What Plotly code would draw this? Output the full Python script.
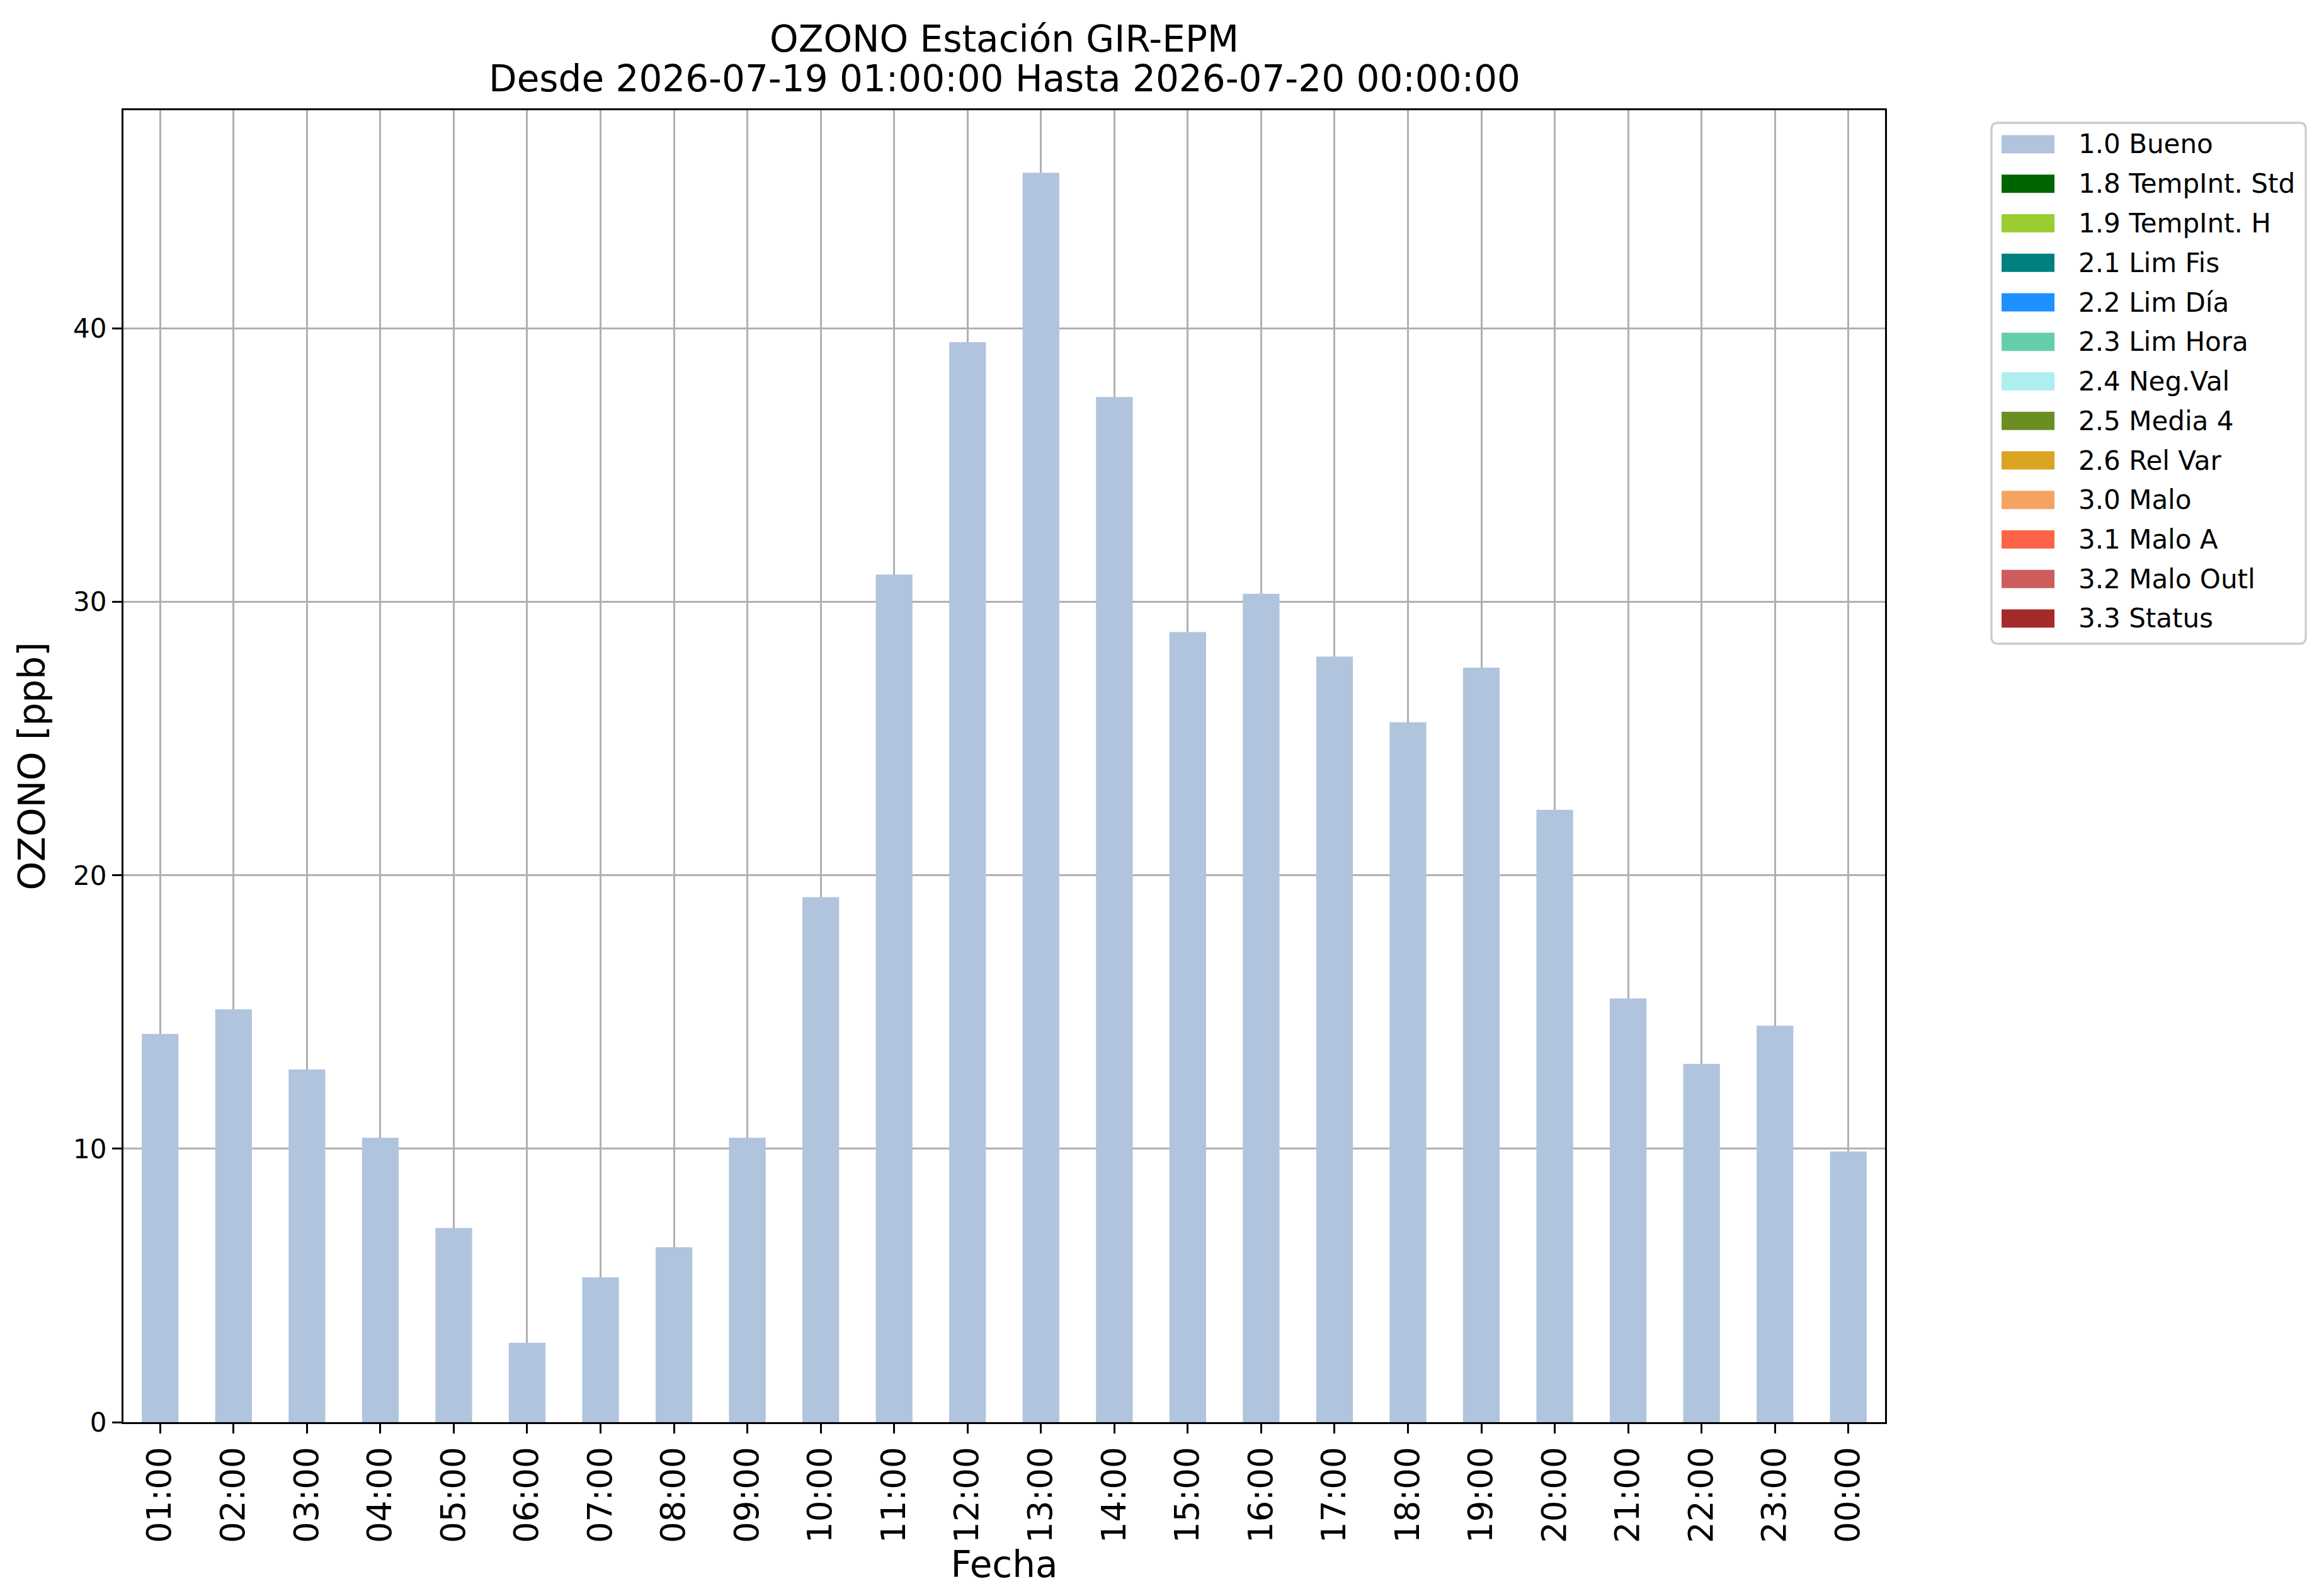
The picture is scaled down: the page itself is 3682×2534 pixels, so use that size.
import plotly.graph_objects as go

# ---------------- data ----------------
horas = ["01:00", "02:00", "03:00", "04:00", "05:00", "06:00", "07:00", "08:00",
         "09:00", "10:00", "11:00", "12:00", "13:00", "14:00", "15:00", "16:00",
         "17:00", "18:00", "19:00", "20:00", "21:00", "22:00", "23:00", "00:00"]
ozono_bueno = [14.2, 15.1, 12.9, 10.4, 7.1, 2.9, 5.3, 6.4, 10.4, 19.2, 31.0, 39.5,
               45.7, 37.5, 28.9, 30.3, 28.0, 25.6, 27.6, 22.4, 15.5, 13.1, 14.5, 9.9]
y_ticks = [0, 10, 20, 30, 40]

leyenda_etiquetas = ["1.0 Bueno", "1.8 TempInt. Std", "1.9 TempInt. H", "2.1 Lim Fis",
                     "2.2 Lim Día", "2.3 Lim Hora", "2.4 Neg.Val", "2.5 Media 4",
                     "2.6 Rel Var", "3.0 Malo", "3.1 Malo A", "3.2 Malo Outl", "3.3 Status"]
leyenda_colores = ["#B0C4DE", "#006400", "#9ACD32", "#008080", "#1E90FF", "#66CDAA",
                   "#AFEEEE", "#6B8E23", "#DAA520", "#F4A460", "#FF6347", "#CD5C5C",
                   "#A52A2A"]

titulo_1 = "OZONO Estación GIR-EPM"
titulo_2 = "Desde 2026-07-19 01:00:00 Hasta 2026-07-20 00:00:00"

# ---------------- layout geometry (pixels) ----------------
FW, FH = 3682, 2534
L, R, T, B = 188, 2985, 167, 2250
W, H = R - L, B - T
FONT = "DejaVu Sans"
LW = 3.3


def px(x):
    return (x - L) / W


def py(y):
    return (B - y) / H


fig = go.Figure()
fig.add_trace(go.Bar(
    x=horas, y=ozono_bueno, name=leyenda_etiquetas[0],
    marker=dict(color=leyenda_colores[0], line=dict(width=0)),
    width=0.5, showlegend=False,
))

ymax = max(ozono_bueno) * 1.05

fig.update_layout(
    width=FW, height=FH,
    margin=dict(l=L, r=FW - R, t=T, b=FH - B, autoexpand=False),
    plot_bgcolor="white", paper_bgcolor="white",
    font=dict(family=FONT, color="black"),
    showlegend=False,
    bargap=0.5,
)

fig.update_xaxes(
    type="category", range=[-0.5, len(horas) - 0.5],
    tickangle=-90, tickfont=dict(size=53, family=FONT, color="black"),
    ticks="outside", ticklen=15, tickwidth=LW, tickcolor="black",
    showline=True, linecolor="black", linewidth=LW, mirror=True,
    showgrid=True, gridcolor="#b0b0b0", gridwidth=LW,
    layer="above traces",
    title=dict(text="Fecha", font=dict(size=58, family=FONT, color="black"), standoff=5),
)
fig.update_yaxes(
    range=[0, ymax], tickvals=y_ticks, ticktext=[str(v) for v in y_ticks],
    tickfont=dict(size=42, family=FONT, color="black"),
    ticks="outside", ticklen=15, tickwidth=LW, tickcolor="black",
    showline=True, linecolor="black", linewidth=LW, mirror=True,
    showgrid=True, gridcolor="#b0b0b0", gridwidth=LW, zeroline=False,
    layer="above traces",
    title=dict(text="OZONO [ppb]", font=dict(size=58, family=FONT, color="black"), standoff=26),
)

# ---------------- title ----------------
annotations = []
for txt, yc in [(titulo_1, 54), (titulo_2, 117)]:
    annotations.append(dict(
        text=txt, xref="paper", yref="paper", x=0.5, y=py(yc),
        xanchor="center", yanchor="middle", showarrow=False,
        font=dict(size=58, family=FONT, color="black"),
    ))

# ---------------- legend (drawn as layout shapes) ----------------
shapes = []
lx0, lx1, ly0, ly1, rad = 3154, 3653, 187, 1014, 10


def P(x, y):
    return f"{px(x):.6f},{py(y):.6f}"


path = (f"M {P(lx0 + rad, ly0)} L {P(lx1 - rad, ly0)} Q {P(lx1, ly0)} {P(lx1, ly0 + rad)} "
        f"L {P(lx1, ly1 - rad)} Q {P(lx1, ly1)} {P(lx1 - rad, ly1)} "
        f"L {P(lx0 + rad, ly1)} Q {P(lx0, ly1)} {P(lx0, ly1 - rad)} "
        f"L {P(lx0, ly0 + rad)} Q {P(lx0, ly0)} {P(lx0 + rad, ly0)} Z")
shapes.append(dict(type="path", path=path, xref="paper", yref="paper",
                   line=dict(color="#cccccc", width=LW), fillcolor="white", layer="above"))

row0, row_step = 221, 62.75
for i, (lab, col) in enumerate(zip(leyenda_etiquetas, leyenda_colores)):
    yc = row0 + row_step * i
    shapes.append(dict(type="rect", xref="paper", yref="paper",
                       x0=px(3170), x1=px(3254), y0=py(yc - 14.5), y1=py(yc + 14.5),
                       fillcolor=col, line=dict(width=0), layer="above"))
    annotations.append(dict(
        text=lab, xref="paper", yref="paper", x=px(3290), y=py(yc),
        xanchor="left", yanchor="middle", showarrow=False,
        font=dict(size=42, family=FONT, color="black"),
    ))

fig.update_layout(shapes=shapes, annotations=annotations)

fig.write_html("out.html")
